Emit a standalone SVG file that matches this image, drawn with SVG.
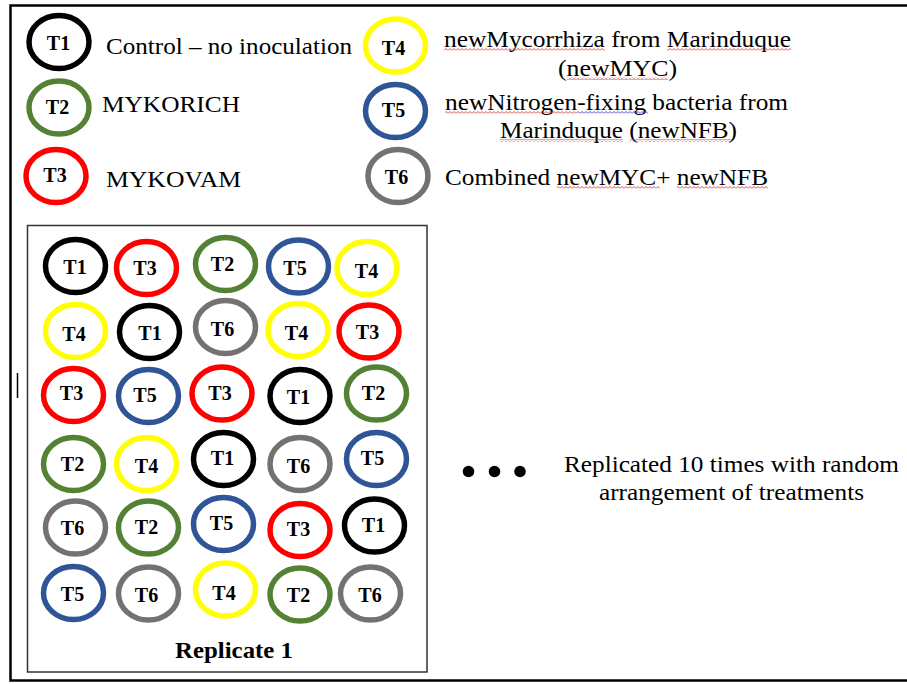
<svg xmlns="http://www.w3.org/2000/svg" width="907" height="684" viewBox="0 0 907 684">
  <style>
    text { font-family: "Liberation Serif", "Times New Roman", serif; fill: #000; }
    .ring { fill: none; stroke-width: 5.5; }
    .k { stroke: #000000; }
    .g { stroke: #548235; }
    .r { stroke: #ff0000; }
    .y { stroke: #ffff00; }
    .b { stroke: #2f5597; }
    .s { stroke: #767171; }
    .lbl { font-weight: bold; font-size: 20px; text-anchor: middle; }
    .txt { font-size: 23px; }
    .bold { font-weight: bold; }
  </style>
  <defs>
    <pattern id="wave-red" width="4" height="3" patternUnits="userSpaceOnUse">
      <path d="M0,2.5 L2,0.5 L4,2.5" fill="none" stroke="#e03030" stroke-width="0.9"/>
    </pattern>
    <pattern id="wave-blue" width="4" height="3" patternUnits="userSpaceOnUse">
      <path d="M0,2.5 L2,0.5 L4,2.5" fill="none" stroke="#3030e0" stroke-width="0.9"/>
    </pattern>
  </defs>

  <rect width="907" height="684" fill="#ffffff"/>

  <!-- outer frame -->
  <rect x="10.5" y="5.5" width="910" height="675" fill="none" stroke="#000" stroke-width="2.5"/>
  <line x1="17.5" y1="373" x2="17.5" y2="398" stroke="#000" stroke-width="1.5"/>

  <!-- legend -->
  <g id="legend-t1">
    <ellipse class="ring k" cx="59" cy="42" rx="30" ry="26.5"/>
    <text class="lbl" x="58.5" y="50">T1</text>
    <text class="txt" x="106" y="54" textLength="246" lengthAdjust="spacingAndGlyphs">Control – no inoculation</text>
  </g>
  <g id="legend-t2">
    <ellipse class="ring g" cx="59" cy="107.5" rx="30" ry="26.5"/>
    <text class="lbl" x="57.5" y="113.5">T2</text>
    <text class="txt" x="102" y="111.5" textLength="138" lengthAdjust="spacingAndGlyphs">MYKORICH</text>
  </g>
  <g id="legend-t3">
    <ellipse class="ring r" cx="56" cy="176" rx="30" ry="26.5"/>
    <text class="lbl" x="55" y="181.5">T3</text>
    <text class="txt" x="106" y="186.5" textLength="135" lengthAdjust="spacingAndGlyphs">MYKOVAM</text>
  </g>
  <g id="legend-t4">
    <ellipse class="ring y" cx="395.5" cy="45.5" rx="30" ry="26.5"/>
    <text class="lbl" x="393.5" y="55">T4</text>
    <text class="txt" x="444" y="47" textLength="347" lengthAdjust="spacingAndGlyphs">newMycorrhiza from Marinduque</text>
    <text class="txt" x="558" y="76" textLength="119" lengthAdjust="spacingAndGlyphs">(newMYC)</text>
    <rect x="444" y="48" width="161" height="3" fill="url(#wave-red)"/>
    <rect x="667" y="48" width="124" height="3" fill="url(#wave-red)"/>
    <rect x="567" y="77" width="101" height="3" fill="url(#wave-red)"/>
  </g>
  <g id="legend-t5">
    <ellipse class="ring b" cx="395.5" cy="111" rx="30" ry="26.5"/>
    <text class="lbl" x="393.5" y="117">T5</text>
    <text class="txt" x="445" y="110" textLength="343" lengthAdjust="spacingAndGlyphs">newNitrogen-fixing bacteria from</text>
    <text class="txt" x="500" y="138" textLength="237" lengthAdjust="spacingAndGlyphs">Marinduque (newNFB)</text>
    <rect x="445" y="111" width="133" height="3" fill="url(#wave-red)"/>
    <rect x="578" y="111" width="70" height="3" fill="url(#wave-blue)"/>
    <rect x="500" y="139" width="123" height="3" fill="url(#wave-red)"/>
    <rect x="630" y="139" width="102" height="3" fill="url(#wave-red)"/>
  </g>
  <g id="legend-t6">
    <ellipse class="ring s" cx="398" cy="176" rx="30" ry="26.5"/>
    <text class="lbl" x="396.5" y="184">T6</text>
    <text class="txt" x="445" y="185" textLength="323" lengthAdjust="spacingAndGlyphs">Combined newMYC+ newNFB</text>
    <rect x="557" y="186" width="103" height="3" fill="url(#wave-red)"/>
    <rect x="677" y="186" width="91" height="3" fill="url(#wave-red)"/>
  </g>

  <!-- replicate plot -->
  <g id="replicate-1">
    <rect x="27.5" y="225.5" width="399.5" height="446.5" fill="none" stroke="#333" stroke-width="1.5"/>
    <text class="txt bold" x="175" y="658" textLength="118" lengthAdjust="spacingAndGlyphs">Replicate 1</text>
  </g>

  <!-- row 1 -->
  <g id="r1c1"><ellipse class="ring k" cx="75.5" cy="266" rx="30" ry="26.5"/><text class="lbl" x="75" y="273.5">T1</text></g>
  <g id="r1c2"><ellipse class="ring r" cx="146.5" cy="268" rx="30" ry="26.5"/><text class="lbl" x="145" y="275">T3</text></g>
  <g id="r1c3"><ellipse class="ring g" cx="225.5" cy="264" rx="30" ry="26.5"/><text class="lbl" x="222.5" y="271">T2</text></g>
  <g id="r1c4"><ellipse class="ring b" cx="298.5" cy="266.5" rx="30" ry="26.5"/><text class="lbl" x="295" y="275">T5</text></g>
  <g id="r1c5"><ellipse class="ring y" cx="367" cy="268" rx="30" ry="26.5"/><text class="lbl" x="366.5" y="277.5">T4</text></g>

  <!-- row 2 -->
  <g id="r2c1"><ellipse class="ring y" cx="75.5" cy="331" rx="30" ry="26.5"/><text class="lbl" x="74" y="341">T4</text></g>
  <g id="r2c2"><ellipse class="ring k" cx="149.5" cy="332" rx="30" ry="26.5"/><text class="lbl" x="150" y="339.5">T1</text></g>
  <g id="r2c3"><ellipse class="ring s" cx="225.5" cy="327" rx="30" ry="26.5"/><text class="lbl" x="222.5" y="336">T6</text></g>
  <g id="r2c4"><ellipse class="ring y" cx="298" cy="330" rx="30" ry="26.5"/><text class="lbl" x="296.5" y="339.5">T4</text></g>
  <g id="r2c5"><ellipse class="ring r" cx="369" cy="331.5" rx="30" ry="26.5"/><text class="lbl" x="367.5" y="338.5">T3</text></g>

  <!-- row 3 -->
  <g id="r3c1"><ellipse class="ring r" cx="73.5" cy="395" rx="30" ry="26.5"/><text class="lbl" x="71.5" y="400">T3</text></g>
  <g id="r3c2"><ellipse class="ring b" cx="148.5" cy="396" rx="30" ry="26.5"/><text class="lbl" x="145" y="402">T5</text></g>
  <g id="r3c3"><ellipse class="ring r" cx="222" cy="393.5" rx="30" ry="26.5"/><text class="lbl" x="220" y="399.5">T3</text></g>
  <g id="r3c4"><ellipse class="ring k" cx="300" cy="396" rx="30" ry="26.5"/><text class="lbl" x="298.5" y="403.5">T1</text></g>
  <g id="r3c5"><ellipse class="ring g" cx="376.5" cy="393.5" rx="30" ry="26.5"/><text class="lbl" x="373.5" y="399.5">T2</text></g>

  <!-- row 4 -->
  <g id="r4c1"><ellipse class="ring g" cx="73.5" cy="464" rx="30" ry="26.5"/><text class="lbl" x="72.5" y="471">T2</text></g>
  <g id="r4c2"><ellipse class="ring y" cx="146.5" cy="464" rx="30" ry="26.5"/><text class="lbl" x="146.5" y="473">T4</text></g>
  <g id="r4c3"><ellipse class="ring k" cx="223.5" cy="459" rx="30" ry="26.5"/><text class="lbl" x="222.5" y="465">T1</text></g>
  <g id="r4c4"><ellipse class="ring s" cx="300" cy="464" rx="30" ry="26.5"/><text class="lbl" x="298.5" y="473">T6</text></g>
  <g id="r4c5"><ellipse class="ring b" cx="376.5" cy="459" rx="30" ry="26.5"/><text class="lbl" x="372.5" y="465">T5</text></g>

  <!-- row 5 -->
  <g id="r5c1"><ellipse class="ring s" cx="75.5" cy="527.5" rx="30" ry="26.5"/><text class="lbl" x="72.5" y="535">T6</text></g>
  <g id="r5c2"><ellipse class="ring g" cx="148.5" cy="527.5" rx="30" ry="26.5"/><text class="lbl" x="146.5" y="534">T2</text></g>
  <g id="r5c3"><ellipse class="ring b" cx="223.5" cy="524" rx="30" ry="26.5"/><text class="lbl" x="221.5" y="530">T5</text></g>
  <g id="r5c4"><ellipse class="ring r" cx="300" cy="530" rx="30" ry="26.5"/><text class="lbl" x="298.5" y="536">T3</text></g>
  <g id="r5c5"><ellipse class="ring k" cx="374.5" cy="525.5" rx="30" ry="26.5"/><text class="lbl" x="373.5" y="532">T1</text></g>

  <!-- row 6 -->
  <g id="r6c1"><ellipse class="ring b" cx="73.5" cy="593" rx="30" ry="26.5"/><text class="lbl" x="72.5" y="601">T5</text></g>
  <g id="r6c2"><ellipse class="ring s" cx="148.5" cy="593.5" rx="30" ry="26.5"/><text class="lbl" x="146.5" y="602">T6</text></g>
  <g id="r6c3"><ellipse class="ring y" cx="225.5" cy="589.5" rx="30" ry="26.5"/><text class="lbl" x="224" y="599.5">T4</text></g>
  <g id="r6c4"><ellipse class="ring g" cx="300" cy="594.5" rx="30" ry="26.5"/><text class="lbl" x="298.5" y="602">T2</text></g>
  <g id="r6c5"><ellipse class="ring s" cx="370.5" cy="593.5" rx="30" ry="26.5"/><text class="lbl" x="370" y="602">T6</text></g>

  <!-- further replicates note -->
  <g id="more-replicates">
    <circle cx="468.5" cy="471.5" r="5.8" fill="#000"/>
    <circle cx="494.5" cy="471.5" r="5.8" fill="#000"/>
    <circle cx="520" cy="471.5" r="5.8" fill="#000"/>
    <text class="txt" x="564" y="472" textLength="335" lengthAdjust="spacingAndGlyphs">Replicated 10 times with random</text>
    <text class="txt" x="599" y="500" textLength="265" lengthAdjust="spacingAndGlyphs">arrangement of treatments</text>
  </g>
</svg>
